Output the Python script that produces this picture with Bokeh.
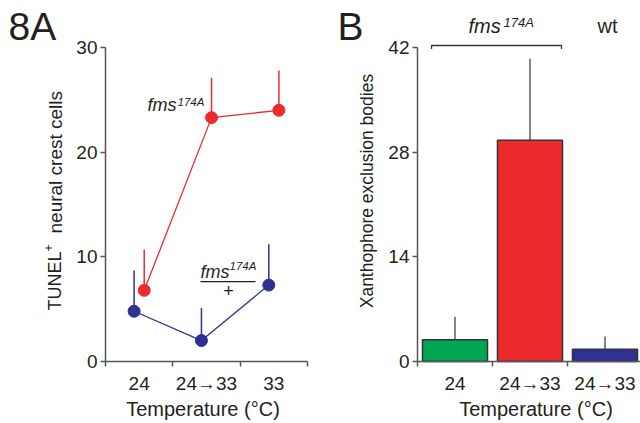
import math
from bokeh.plotting import figure
from bokeh.layouts import row
from bokeh.models import Range1d, FixedTicker, Label
from bokeh.embed import file_html
from bokeh.resources import INLINE

# ---- data ----
temps_A = ["24", "24\u219233", "33"]
fms_mean = [6.8, 23.3, 24.0]
fms_err = [3.9, 3.8, 3.8]
het_mean = [4.8, 2.0, 7.3]
het_err = [3.9, 3.1, 3.9]

temps_B = ["24", "24\u219233", "24\u219233"]
bodies_mean = [2.9, 29.6, 1.65]
bodies_err = [3.1, 10.9, 1.7]
bar_colors = ["#00a651", "#ed2a2e", "#2e3192"]

FONT = "Liberation Sans"
RED = "#ed2a2e"
BLUE = "#2e3192"
AX = "#555555"
TXT = "#231f20"


def style_axes(p, xb, yb):
    p.outline_line_color = None
    p.xgrid.grid_line_color = None
    p.ygrid.grid_line_color = None
    p.min_border = 0
    for ax in (p.xaxis[0], p.yaxis[0]):
        ax.fixed_location = 0
        ax.axis_line_color = AX
        ax.axis_line_width = 1.5
        ax.major_label_text_font = FONT
        ax.major_label_text_font_size = "19px"
        ax.major_label_text_color = TXT
        ax.major_tick_line_color = AX
        ax.major_tick_line_width = 1.5
        ax.minor_tick_line_color = AX
        ax.minor_tick_line_width = 1.5
    p.xaxis.bounds = xb
    p.yaxis.bounds = yb
    p.yaxis.major_tick_out = 5
    p.yaxis.major_tick_in = 0
    p.yaxis.minor_tick_line_color = None
    p.yaxis.major_label_standoff = 3
    p.xaxis.major_tick_out = 0
    p.xaxis.major_tick_in = 0
    p.xaxis.minor_tick_out = 5
    p.xaxis.minor_tick_in = 0
    p.xaxis.major_label_standoff = 6


def lab(p, x, y, text, size="18px", style="normal", align="left", angle=0.0):
    p.add_layout(Label(x=x, y=y, text=text, text_font=FONT, text_font_size=size,
                       text_font_style=style, text_color=TXT, text_align=align,
                       text_baseline="middle", angle=angle))


n = len(temps_A)
centers = [i + 0.5 for i in range(n)]

# ---------------- Panel A ----------------
kxA, kyA = 202 / 3, 314 / 30
pA = figure(width=320, height=423,
            x_range=Range1d(-105 / kxA, (320 - 105) / kxA),
            y_range=Range1d(-(423 - 361) / kyA, 361 / kyA),
            output_backend="svg", toolbar_location=None)
style_axes(pA, (0, n), (0, 30))
pA.yaxis.ticker = FixedTicker(ticks=[0, 10, 20, 30])
pA.xaxis.ticker = FixedTicker(ticks=centers, minor_ticks=list(range(n + 1)))
pA.xaxis.major_label_overrides = {c: t for c, t in zip(centers, temps_A)}

off = 0.075
x_het = [c - off for c in centers]
x_fms = [c + off for c in centers]

pA.segment(x0=x_het, y0=het_mean, x1=x_het, y1=[m + e for m, e in zip(het_mean, het_err)],
           line_color=BLUE, line_width=1.5)
pA.segment(x0=x_fms, y0=fms_mean, x1=x_fms, y1=[m + e for m, e in zip(fms_mean, fms_err)],
           line_color=RED, line_width=1.5)
pA.line(x_het, het_mean, line_color=BLUE, line_width=1.3)
pA.line(x_fms, fms_mean, line_color=RED, line_width=1.3)
pA.scatter(x_het, het_mean, size=12, fill_color=BLUE, line_color=BLUE)
pA.scatter(x_fms, fms_mean, size=12, fill_color=RED, line_color=RED)

# genotype labels
lab(pA, 0.624, 24.49, "fms", style="italic")
lab(pA, 1.069, 24.84, "174A", size="11.5px", style="italic")
lab(pA, 1.411, 8.53, "fms", style="italic")
lab(pA, 1.842, 9.08, "174A", size="11.5px", style="italic")
pA.segment(x0=[1.411], y0=[7.64], x1=[2.228], y1=[7.64], line_color=TXT, line_width=1.3)
lab(pA, 1.827, 6.78, "+", align="center")

# axis titles and panel letter
lab(pA, 1.448, -4.53, "Temperature (\u00b0C)", size="20px", align="center")
lab(pA, -0.743, 4.87, "TUNEL", size="18px", angle=math.pi / 2)
lab(pA, -0.8465, 10.85, "+", size="13px", align="center", angle=math.pi / 2)
lab(pA, -0.743, 12.23, "neural crest cells", size="19px", angle=math.pi / 2)
lab(pA, -1.44, 31.98, "8A", size="39px")

# ---------------- Panel B ----------------
kxB, kyB = 75, 314 / 42
pB = figure(width=320, height=423,
            x_range=Range1d(-97 / kxB, (320 - 97) / kxB),
            y_range=Range1d(-(423 - 361) / kyB, 361 / kyB),
            output_backend="svg", toolbar_location=None)
style_axes(pB, (0, (320 - 97) / kxB), (0, 42))
pB.yaxis.ticker = FixedTicker(ticks=[0, 14, 28, 42])
pB.xaxis.ticker = FixedTicker(ticks=centers, minor_ticks=list(range(n + 1)))
pB.xaxis.major_label_overrides = {c: t for c, t in zip(centers, temps_B)}

pB.segment(x0=centers, y0=bodies_mean, x1=centers,
           y1=[m + e for m, e in zip(bodies_mean, bodies_err)], line_color="#333333", line_width=1.2)
pB.vbar(x=centers, top=bodies_mean, bottom=0, width=0.867, fill_color=bar_colors,
        line_color="#333333", line_width=1.5)

# bracket over fms bars
pB.line([0.187, 0.187, 1.92, 1.92], [41.8, 42.27, 42.27, 41.8], line_color="#333333", line_width=1.3)
lab(pB, 0.68, 44.81, "fms", size="20px", style="italic")
lab(pB, 1.147, 45.37, "174A", size="13px", style="italic")
lab(pB, 2.4, 44.81, "wt", size="20px")

lab(pB, 1.58, -6.34, "Temperature (\u00b0C)", size="20px", align="center")
lab(pB, -0.68, 22.8, "Xanthophore exclusion bodies", size="17.5px", align="center",
    angle=math.pi / 2)
lab(pB, -1.067, 44.77, "B", size="39px")

layout = row(pA, pB)
open("out.html", "w").write(file_html(layout, INLINE))
